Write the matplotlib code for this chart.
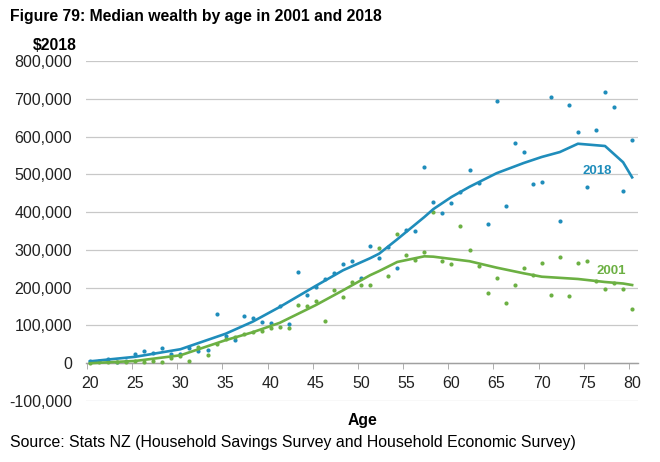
import numpy as np
import matplotlib.pyplot as plt

plt.rcParams['font.family'] = ['Liberation Sans', 'DejaVu Sans']

# ages 20..80, one median value per age (dollars, $2018)
ages = list(range(20, 81))

wealth_2018 = [5, 5, 10, 3, 5, 24, 32, 26, 40, 24, 24, 40, 32, 34, 130, 72, 61, 125, 121, 108,
               106, 151, 103, 241, 180, 201, 222, 238, 262, 270, 225, 310, 278, 307, 252, 352, 350, 519, 426, 397,
               424, 454, 511, 477, 368, 694, 416, 583, 559, 474, 480, 705, 376, 683, 611, 467, 617, 718, 678, 456,
               591]
wealth_2001 = [0, 3, 3, 3, 3, 5, 2, 5, 3, 15, 20, 5, 43, 21, 50, 63, 70, 77, 82, 85,
               93, 95, 93, 154, 151, 164, 111, 193, 175, 214, 207, 207, 304, 230, 342, 286, 273, 294, 400, 270,
               262, 363, 299, 257, 185, 225, 159, 206, 252, 233, 265, 180, 281, 178, 265, 270, 217, 196, 212, 196,
               143]

# smoothed trend lines
trend_ages = [20, 25, 30, 35, 38, 41, 45, 48, 51, 52, 54, 57, 58, 60, 62, 65, 68, 70, 72, 74, 77, 79, 80]
trend_2018 = [5, 17, 37, 78, 110, 149, 205, 246, 278, 290, 328, 387, 408, 440, 467, 503, 530, 546, 559, 581,
              575, 532, 492]
trend_2001 = [0, 6, 21, 61, 82, 107, 154, 193, 233, 244, 268, 283, 282, 276, 270, 253, 238, 229, 226, 223,
              215, 211, 207]

blue = '#1f8dbb'
green = '#6cb043'

fig = plt.figure(figsize=(6.6, 4.62), dpi=100)
ax = fig.add_axes([86 / 660, 1 - 401 / 462, 552 / 660, 340 / 462])

ax.scatter(ages, np.array(wealth_2018) * 1000, s=9, color=blue, zorder=3, linewidths=0)
ax.scatter(ages, np.array(wealth_2001) * 1000, s=9, color=green, zorder=3, linewidths=0)
ax.plot(trend_ages, np.array(trend_2018) * 1000, color=blue, lw=1.9, zorder=4)
ax.plot(trend_ages, np.array(trend_2001) * 1000, color=green, lw=1.9, zorder=4)

ax.text(77.8, 508000, '2018', color=blue, fontsize=9.5, fontweight='bold', ha='right', va='center')
ax.text(79.3, 244000, '2001', color=green, fontsize=9.5, fontweight='bold', ha='right', va='center')

ax.set_xlim(19.55, 80.65)
ax.set_ylim(-100000, 800000)
ax.set_yticks(np.arange(-100000, 800001, 100000))
ax.set_yticklabels([f'{v:,}' for v in range(-100000, 800001, 100000)])
ax.grid(axis='y', color='#c8c8c8', lw=0.9)
ax.set_axisbelow(True)

for s in ['left', 'right', 'top']:
    ax.spines[s].set_visible(False)
ax.spines['bottom'].set_position(('data', 0))
ax.spines['bottom'].set_color('#a0a0a0')
ax.spines['bottom'].set_linewidth(1.0)

ax.set_xticks(range(20, 81, 5))
ax.set_xticks(np.arange(19.65, 81, 5), minor=True)
ax.tick_params(axis='x', which='major', length=0, pad=9, labelsize=11.5, colors='#222222')
ax.tick_params(axis='x', which='minor', length=4, color='#a0a0a0', direction='out')
ax.tick_params(axis='y', length=0, pad=10, labelsize=11.5, colors='#222222')

fig.text(10 / 660, 1 - 17 / 462, 'Figure 79: Median wealth by age in 2001 and 2018',
         fontsize=11.3, fontweight='bold', va='center', ha='left')
fig.text(77 / 660, 1 - 45 / 462, '$2018', fontsize=11.3, fontweight='bold', va='center', ha='right')
fig.text(362 / 660, 1 - 420 / 462, 'Age', fontsize=11.3, fontweight='bold', va='center', ha='center')
fig.text(10 / 660, 1 - 443 / 462,
         'Source: Stats NZ (Household Savings Survey and Household Economic Survey)',
         fontsize=11.4, va='center', ha='left')

fig.savefig('out.png', dpi=100)
